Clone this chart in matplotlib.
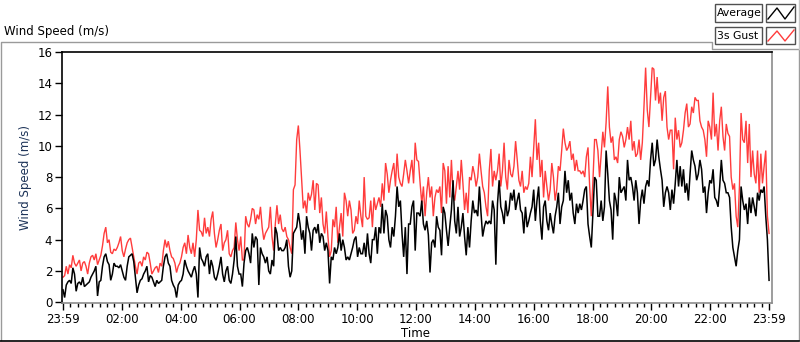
import numpy as np
import matplotlib
matplotlib.use("Agg")
import matplotlib.pyplot as plt
from matplotlib.lines import Line2D
from matplotlib.patches import Rectangle

# ---- data: wind speed (m/s), evenly spaced samples ----
# 3s gust, four consecutive quarters of the day
gust_q1 = [1.6,1.7,2.3,1.8,2.4,2.2,3.0,2.5,2.3,2.5, 2.7,2.0,2.5,2.6,2.3,1.8,2.5,2.9,3.0,2.7,
           3.1,2.4,2.7,3.0,3.6,4.4,4.8,3.8,4.0,3.2, 3.1,3.4,3.3,3.5,3.8,4.2,3.3,2.9,3.4,3.8,
           4.0,4.1,3.5,2.9,2.3,1.8,2.5,2.6,2.3,2.9, 2.7,3.2,3.1,2.5,1.8,2.0,2.2,2.3,1.9,2.5,
           2.3,3.3,4.0,3.5,3.9,3.3,2.9,2.8,2.5,1.9, 2.3,2.5,2.9,3.5,3.8,3.1,4.3,3.5,3.1,3.8,
           2.9,4.0,5.9,4.6,4.5,4.2,5.4,4.4,4.8,4.2, 5.3,5.8,4.4,3.5,4.0,4.6,5.0,3.3,3.8,4.0,
           4.6,3.1,2.9,3.3,3.5,5.1,4.0,3.3]
gust_q2 = [4.2,2.7,2.7,5.5,5.0,4.8,5.3,6.0,5.9,5.0, 5.6,5.3,6.1,4.8,4.0,4.4,4.6,4.8,6.1,4.2,
           3.3,5.0,6.2,5.0,5.6,4.7,4.5,4.8,4.2,4.0, 3.5,3.1,7.2,7.5,10.4,11.3,9.7,7.8,6.0,6.5,
           5.7,7.0,6.5,6.9,7.8,5.9,7.6,7.5,5.7,6.7, 5.0,4.4,5.8,4.2,2.9,3.3,5.3,4.8,6.1,3.8,
           4.8,5.7,4.2,7.0,6.5,5.5,6.5,5.9,4.4,4.6, 5.5,5.0,6.5,5.5,4.8,8.0,5.5,5.3,5.4,6.5,
           4.8,6.7,5.9,6.3,6.7,6.1,7.6,6.5,8.9,8.2, 7.0,7.8,8.4,8.9,7.4,9.5,8.0,7.6,7.4,8.2,
           9.1,8.4,7.6,8.4,9.1,7.6,10.2,9.1]
gust_q3 = [9.0,7.6,6.3,7.4,5.5,7.0,8.0,6.7,7.4,5.5, 6.7,7.2,7.0,7.4,5.7,8.9,8.4,6.3,8.7,6.7,
           9.1,7.0,6.5,7.4,8.4,7.2,9.1,7.6,5.9,7.0, 5.7,8.0,7.8,8.7,8.2,7.4,8.0,9.5,8.4,7.4,
           7.0,6.1,5.5,8.4,9.8,7.4,8.4,7.8,8.4,9.5, 7.4,8.4,10.2,8.0,7.2,9.1,8.2,8.0,8.7,10.3,
           9.1,7.8,7.4,8.4,7.0,7.4,7.2,7.6,9.3,8.0, 9.9,11.7,9.1,10.2,8.0,9.1,6.7,8.4,7.4,6.5,
           7.2,8.9,8.0,6.5,7.2,8.7,8.4,9.7,11.1,10.2, 9.7,9.9,10.3,9.1,9.5,8.4,9.1,8.4,8.4,8.2,
           8.4,8.0,9.3,9.9,7.4,5.5,7.8,10.4]
gust_q4 = [10.4,9.7,8.0,9.5,10.9,9.9,11.5,13.8,11.2,10.2, 10.6,9.1,9.3,8.9,10.4,10.9,10.6,9.9,10.4,11.2,
           10.4,11.6,9.7,10.3,9.3,9.5,10.4,9.1,10.2,12.5, 15.0,12.3,11.2,13.1,15.0,14.9,12.9,14.4,12.7,13.4,
           11.6,13.1,13.5,11.2,10.4,11.0,11.0,8.5,11.8,10.4, 11.0,9.9,10.2,11.0,12.1,12.7,11.2,11.4,12.5,12.1,
           13.1,12.9,12.9,11.6,11.2,11.0,10.4,9.3,11.6,11.2, 10.4,13.4,10.6,11.4,9.7,11.6,12.5,10.6,9.7,11.4,
           10.8,10.6,8.0,7.2,7.6,5.5,4.8,7.4,12.1,10.4, 10.2,11.6,8.9,11.4,8.0,9.7,8.2,7.6,9.7,7.0,
           9.5,7.6,8.7,9.7,5.5,4.4]

# 1-minute average, same sampling
avg_q1 = [0.8,0.3,1.1,1.3,1.4,1.2,2.2,1.8,0.7,1.2, 1.3,1.1,1.6,1.0,1.1,1.2,1.3,1.6,1.8,2.0,
          2.3,0.4,1.3,1.4,2.3,2.9,3.1,2.6,2.4,1.4, 1.8,2.5,2.3,2.3,2.2,2.4,2.0,1.6,1.4,2.3,
          2.9,3.0,3.1,2.6,1.6,0.6,1.1,1.4,1.5,1.8, 2.0,2.3,1.3,1.7,1.6,1.3,1.0,1.4,1.2,1.3,
          1.4,2.3,2.9,3.1,2.5,2.3,1.4,1.1,0.9,0.3, 1.1,1.3,1.4,1.8,2.7,2.3,2.0,1.8,1.6,2.0,
          2.3,1.8,0.3,3.5,2.8,2.6,2.3,2.9,3.1,1.8, 2.7,2.3,1.6,1.4,1.8,2.3,2.9,1.8,1.3,2.0,
          2.3,1.4,1.2,1.8,2.7,4.2,2.3,1.8]
avg_q2 = [1.8,1.0,2.5,3.3,3.5,3.1,2.5,4.4,3.5,4.2, 4.0,1.1,3.5,3.1,2.9,2.5,2.9,2.0,1.8,2.7,
          2.3,4.8,4.4,3.3,3.5,3.3,3.3,3.5,4.0,2.3, 1.6,2.0,4.4,4.6,4.8,5.7,5.0,4.0,4.6,3.1,
          5.5,4.8,4.4,3.3,4.6,4.8,4.4,5.0,3.8,4.4, 4.2,3.3,3.8,3.3,1.2,2.9,2.7,3.5,3.1,3.5,
          4.4,3.3,4.0,3.5,2.7,2.9,2.7,3.1,3.5,4.0, 4.2,2.9,3.5,3.1,3.1,3.8,2.9,4.4,3.1,2.5,
          4.0,4.0,4.8,3.1,4.8,4.4,6.3,4.4,5.9,5.5, 4.0,3.5,4.8,4.2,5.5,7.4,6.1,6.5,4.4,2.9,
          4.8,1.8,5.0,5.0,6.1,6.5,3.3,5.7]
avg_q3 = [5.7,5.5,6.5,5.0,4.6,5.2,4.3,1.9,3.8,4.0, 3.5,5.5,4.8,4.6,3.0,6.1,5.7,4.6,3.6,4.8,
          5.9,7.8,5.2,4.4,6.1,4.2,4.8,5.7,4.2,3.0, 4.8,3.5,5.2,6.5,5.7,5.9,5.5,7.4,5.7,4.2,
          4.8,5.2,5.0,5.2,5.0,6.5,5.9,2.4,6.3,7.8, 6.1,5.7,5.0,6.5,5.5,5.9,7.0,6.5,7.2,5.9,
          6.5,7.0,5.9,5.7,4.4,6.1,4.8,5.2,5.7,6.1, 7.2,5.2,6.5,7.4,5.2,4.0,6.1,6.5,5.2,4.6,
          5.7,5.0,4.4,5.5,6.1,7.0,5.0,6.1,6.5,8.4, 7.0,7.8,6.5,7.0,5.7,5.0,6.3,5.7,6.3,5.9,
          6.5,7.2,7.4,5.0,4.2,3.5,5.7,8.0]
avg_q4 = [7.8,5.5,5.5,6.5,5.2,6.1,9.7,8.2,6.5,5.9, 4.0,7.0,6.5,5.5,8.0,7.0,7.2,7.4,6.5,9.1,
          7.8,8.0,7.4,6.5,7.8,7.0,5.0,6.5,7.2,6.3, 7.4,7.8,7.4,9.1,10.2,8.7,9.1,10.4,9.3,8.5,
          7.8,6.1,7.0,7.4,7.0,5.9,7.2,6.3,7.6,9.1, 7.4,8.7,7.4,8.5,7.0,7.6,6.5,8.2,9.7,9.1,
          8.7,7.8,8.2,9.1,8.5,7.0,7.4,5.7,7.0,7.8, 7.6,8.5,6.7,6.5,6.1,7.4,9.1,7.8,7.6,7.0,
          7.0,6.7,4.8,3.5,2.9,2.3,3.3,4.0,7.4,6.5, 5.9,6.3,5.0,6.7,5.7,6.7,6.1,5.5,7.0,6.5,
          7.2,7.0,7.4,5.5,4.0,1.4]

gust = gust_q1 + gust_q2 + gust_q3 + gust_q4
average = avg_q1 + avg_q2 + avg_q3 + avg_q4

tick_minutes = [0, 120, 240, 360, 480, 600, 720, 840, 960, 1080, 1200, 1320, 1440]
tick_labels = ["23:59", "02:00", "04:00", "06:00", "08:00", "10:00", "12:00",
               "14:00", "16:00", "18:00", "20:00", "22:00", "23:59"]
y_ticks = [0, 2, 4, 6, 8, 10, 12, 14, 16]

series_names = ["Average", "3s Gust"]
series_colors = ["#000000", "#ff3c3c"]

# ---- figure ----
W, H = 800, 342
fig = plt.figure(figsize=(W / 100, H / 100), dpi=100)
fig.patch.set_facecolor("white")

def fx(x):
    return x / W

def fy(y):
    return 1 - y / H

ax = fig.add_axes([fx(62), fy(303), fx(772) - fx(62), fy(52) - fy(303)])
t_gust = np.linspace(0, 1440, len(gust))
t_avg = np.linspace(0, 1440, len(average))
ax.plot(t_gust, gust, color=series_colors[1], lw=1.0, solid_joinstyle="miter")
ax.plot(t_avg, average, color=series_colors[0], lw=1.1, solid_joinstyle="miter")

ax.set_xlim(-2, 1446)
ax.set_ylim(-0.05, 16)
ax.set_xticks(tick_minutes)
ax.set_xticklabels(tick_labels)
ax.set_xticks(np.arange(0, 1441, 15), minor=True)
ax.set_yticks(y_ticks)
ax.set_yticklabels([str(v) for v in y_ticks])

ax.tick_params(axis="x", which="major", length=5, width=1, pad=2, labelsize=8.5, direction="out")
ax.tick_params(axis="x", which="minor", length=3, width=1, direction="out")
ax.tick_params(axis="y", which="major", length=5, width=1, pad=2, labelsize=8.5, direction="out")

for side in ["top", "left"]:
    ax.spines[side].set_color("black")
    ax.spines[side].set_linewidth(1.2)
for side in ["bottom", "right"]:
    ax.spines[side].set_color("#8c8c8c")
    ax.spines[side].set_linewidth(1.2)

ax.set_ylabel("Wind Speed (m/s)", fontsize=8.5, color="#1d3358", labelpad=4)
ax.set_xlabel("Time", fontsize=8.5, labelpad=2)
ax.xaxis.set_label_coords(0.498, -0.095)

# title label above frame
fig.text(fx(4), fy(31), "Wind Speed (m/s)", fontsize=8.5, va="center", ha="left")

# outer panel frame
grey = "#9a9a9a"
fig.add_artist(Line2D([fx(0.5), fx(0.5), fx(712), fx(712), fx(798.5), fx(798.5)],
                      [fy(340), fy(42), fy(42), fy(49), fy(49), fy(340)],
                      color=grey, lw=1.0))
fig.add_artist(Line2D([fx(0), fx(799)], [fy(340.5), fy(340.5)], color="black", lw=1.2))
fig.add_artist(Line2D([fx(798.5), fx(798.5)], [fy(0), fy(49)], color="#c8c8c8", lw=1.0))

# legend boxes
rows = [(4, 22), (27, 44)]
for (y0, y1), name, col in zip(rows, series_names, series_colors):
    fig.add_artist(Rectangle((fx(715), fy(y1)), fx(762) - fx(715), fy(y0) - fy(y1),
                             facecolor="white", edgecolor="#505050", lw=1.0))
    fig.text(fx(717), fy((y0 + y1) / 2 + 0.5), name, fontsize=7.8, va="center", ha="left")
    fig.add_artist(Rectangle((fx(766), fy(y1)), fx(795) - fx(766), fy(y0) - fy(y1),
                             facecolor="white", edgecolor="#505050", lw=1.0))
    fig.add_artist(Line2D([fx(768), fx(777), fx(785), fx(794)],
                          [fy(y1 - 3), fy(y0 + 4), fy(y1 - 3), fy(y0 + 3)],
                          color=col, lw=1.0))

fig.savefig("out.png", dpi=100, facecolor="white")
